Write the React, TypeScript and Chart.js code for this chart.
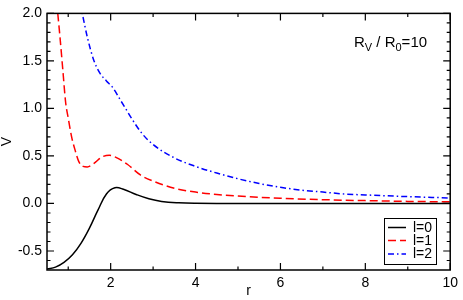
import React, { useEffect, useRef } from "react";
import { Chart, registerables } from "chart.js";

Chart.register(...registerables);

// l = 0 (solid black)
const rL0 = [0.5, 0.7, 0.9, 1.1, 1.3, 1.5, 1.7, 1.9, 2.1, 2.3, 2.6, 2.9, 3.2, 3.6, 4.0, 5.0, 6.0, 8.0, 10.0];
const vL0 = [-0.69, -0.67, -0.62, -0.54, -0.42, -0.26, -0.07, 0.1, 0.165, 0.15, 0.095, 0.05, 0.022, 0.007, 0.002, 0.0, 0.0, 0.0, 0.0];

// l = 1 (dashed red)
const rL1 = [0.7, 0.8, 0.87, 0.94, 1.0, 1.08, 1.15, 1.25, 1.35, 1.45, 1.6, 1.8, 1.97, 2.15, 2.4, 2.7, 3.0, 3.5, 4.0, 4.5, 5.0, 6.0, 7.0, 8.0, 9.0, 10.0];
const vL1 = [2.25, 1.78, 1.42, 1.06, 0.9, 0.7, 0.58, 0.44, 0.39, 0.385, 0.42, 0.49, 0.507, 0.48, 0.41, 0.3, 0.235, 0.16, 0.12, 0.095, 0.078, 0.055, 0.04, 0.03, 0.022, 0.017];

// l = 2 (dash-dot blue)
const rL2 = [1.28, 1.33, 1.45, 1.6, 1.75, 1.9, 2.05, 2.2, 2.35, 2.5, 2.75, 3.0, 3.5, 4.0, 4.5, 5.0, 5.5, 6.0, 6.5, 7.0, 7.5, 8.0, 9.0, 10.0];
const vL2 = [2.1, 2.0, 1.75, 1.51, 1.37, 1.29, 1.22, 1.11, 1.0, 0.89, 0.73, 0.62, 0.48, 0.39, 0.32, 0.26, 0.21, 0.17, 0.14, 0.12, 0.1, 0.09, 0.072, 0.058];

const seriesLabels = ["l=0", "l=1", "l=2"];
const xTicks = [2, 4, 6, 8, 10];
const xMinorTicks = [1, 3, 5, 7, 9];
const yTicks = [-0.5, 0.0, 0.5, 1.0, 1.5, 2.0];
const yMinorTicks = [-0.6, -0.4, -0.3, -0.2, -0.1, 0.1, 0.2, 0.3, 0.4, 0.6, 0.7, 0.8, 0.9, 1.1, 1.2, 1.3, 1.4, 1.6, 1.7, 1.8, 1.9];
const annotationMain = "R";
const annotationSubV = "V";
const annotationMid = " / R";
const annotationSub0 = "0";
const annotationEnd = "=10";

const FONT = '"Liberation Sans", Arial, Helvetica, sans-serif';

const toPoints = (xs: number[], ys: number[]) => xs.map((x, i) => ({ x, y: ys[i] }));

const framePlugin = {
  id: "frameTicks",
  afterDatasetsDraw(chart: any) {
    const { ctx, chartArea } = chart;
    const { left, right, top, bottom } = chartArea;
    const xs = chart.scales.x;
    const ys = chart.scales.y;
    ctx.save();
    ctx.strokeStyle = "#000";
    ctx.lineWidth = 1.5;
    ctx.setLineDash([]);
    ctx.strokeRect(left, top, right - left, bottom - top);
    const MAJ = 7;
    const MIN = 3.5;
    ctx.lineWidth = 1.2;
    ctx.beginPath();
    const vx = (vals: number[], len: number) => {
      vals.forEach((v) => {
        const px = xs.getPixelForValue(v);
        ctx.moveTo(px, bottom);
        ctx.lineTo(px, bottom - len);
        ctx.moveTo(px, top);
        ctx.lineTo(px, top + len);
      });
    };
    const vy = (vals: number[], len: number) => {
      vals.forEach((v) => {
        const py = ys.getPixelForValue(v);
        ctx.moveTo(left, py);
        ctx.lineTo(left + len, py);
        ctx.moveTo(right, py);
        ctx.lineTo(right - len, py);
      });
    };
    vx(xTicks, MAJ);
    vx(xMinorTicks, MIN);
    vy(yTicks, MAJ);
    vy(yMinorTicks, MIN);
    ctx.stroke();

    // legend
    const bx = 384, by = 218, bw = 52, bh = 46;
    ctx.fillStyle = "#fff";
    ctx.fillRect(bx, by, bw, bh);
    ctx.lineWidth = 1;
    ctx.strokeStyle = "#000";
    ctx.strokeRect(bx + 0.5, by + 0.5, bw, bh);
    const rowY = [227.5, 240.5, 254];
    chart.data.datasets.forEach((ds: any, i: number) => {
      ctx.save();
      ctx.strokeStyle = ds.borderColor;
      ctx.lineWidth = ds.borderWidth;
      ctx.setLineDash(ds.borderDash || []);
      ctx.beginPath();
      ctx.moveTo(388, rowY[i]);
      ctx.lineTo(406, rowY[i]);
      ctx.stroke();
      ctx.restore();
      ctx.fillStyle = "#000";
      ctx.font = `14px ${FONT}`;
      ctx.textBaseline = "middle";
      ctx.textAlign = "left";
      ctx.fillText(seriesLabels[i], 413, rowY[i] + 0.5);
    });

    // annotation
    ctx.fillStyle = "#000";
    ctx.textBaseline = "alphabetic";
    ctx.textAlign = "left";
    let x = 354;
    const base = 47;
    const big = `15px ${FONT}`;
    const small = `11px ${FONT}`;
    ctx.font = big;
    ctx.fillText(annotationMain, x, base);
    x += ctx.measureText(annotationMain).width;
    ctx.font = small;
    ctx.fillText(annotationSubV, x, base + 3.5);
    x += ctx.measureText(annotationSubV).width;
    ctx.font = big;
    ctx.fillText(annotationMid, x, base);
    x += ctx.measureText(annotationMid).width;
    ctx.font = small;
    ctx.fillText(annotationSub0, x, base + 3.5);
    x += ctx.measureText(annotationSub0).width;
    ctx.font = big;
    ctx.fillText(annotationEnd, x, base);
    ctx.restore();
  },
};

export default function App() {
  const ref = useRef<HTMLCanvasElement | null>(null);
  useEffect(() => {
    document.body.style.margin = "0";
    const canvas = ref.current;
    if (!canvas) return;
    const chart = new Chart(canvas, {
      type: "scatter",
      data: {
        datasets: [
          {
            label: seriesLabels[0],
            data: toPoints(rL0, vL0),
            showLine: true,
            borderColor: "#000000",
            borderWidth: 1.5,
            pointRadius: 0,
            tension: 0.4,
          },
          {
            label: seriesLabels[1],
            data: toPoints(rL1, vL1),
            showLine: true,
            borderColor: "#ff0000",
            borderWidth: 1.5,
            borderDash: [8, 4],
            pointRadius: 0,
            cubicInterpolationMode: "monotone",
          },
          {
            label: seriesLabels[2],
            data: toPoints(rL2, vL2),
            showLine: true,
            borderColor: "#0000ff",
            borderWidth: 1.5,
            borderDash: [6, 3, 1.5, 3],
            pointRadius: 0,
            cubicInterpolationMode: "monotone",
          },
        ] as any,
      },
      options: {
        responsive: false,
        animation: false,
        events: [],
        layout: { padding: { top: 6, right: 10, left: 0, bottom: 0 } },
        plugins: { legend: { display: false }, tooltip: { enabled: false } },
        scales: {
          x: {
            type: "linear",
            min: 0.5,
            max: 10,
            grid: { display: false, drawTicks: false },
            border: { display: false },
            afterBuildTicks: (s: any) => {
              s.ticks = xTicks.map((v) => ({ value: v }));
            },
            afterFit: (s: any) => {
              s.height = 30;
            },
            ticks: {
              padding: 5,
              color: "#000",
              maxRotation: 0,
              font: { family: FONT, size: 14 },
              callback: (v: any) => String(v),
            },
            title: {
              display: true,
              text: "r",
              color: "#000",
              padding: 0,
              font: { family: FONT, size: 14, lineHeight: 1.2 },
            },
          },
          y: {
            type: "linear",
            min: -0.7,
            max: 2.0,
            grid: { display: false, drawTicks: false },
            border: { display: false },
            afterBuildTicks: (s: any) => {
              s.ticks = yTicks.map((v) => ({ value: v }));
            },
            afterFit: (s: any) => {
              s.width = 47;
            },
            ticks: {
              padding: 5,
              color: "#000",
              font: { family: FONT, size: 14 },
              callback: (v: any) => Number(v).toFixed(1),
            },
            title: {
              display: true,
              text: "V",
              color: "#000",
              padding: 0,
              font: { family: FONT, size: 14, lineHeight: 1.0 },
            },
          },
        },
      },
      plugins: [framePlugin],
    } as any);
    return () => chart.destroy();
  }, []);
  return (
    <div style={{ width: 463, height: 300 }}>
      <canvas ref={ref} width={463} height={300} style={{ display: "block" }} />
    </div>
  );
}
